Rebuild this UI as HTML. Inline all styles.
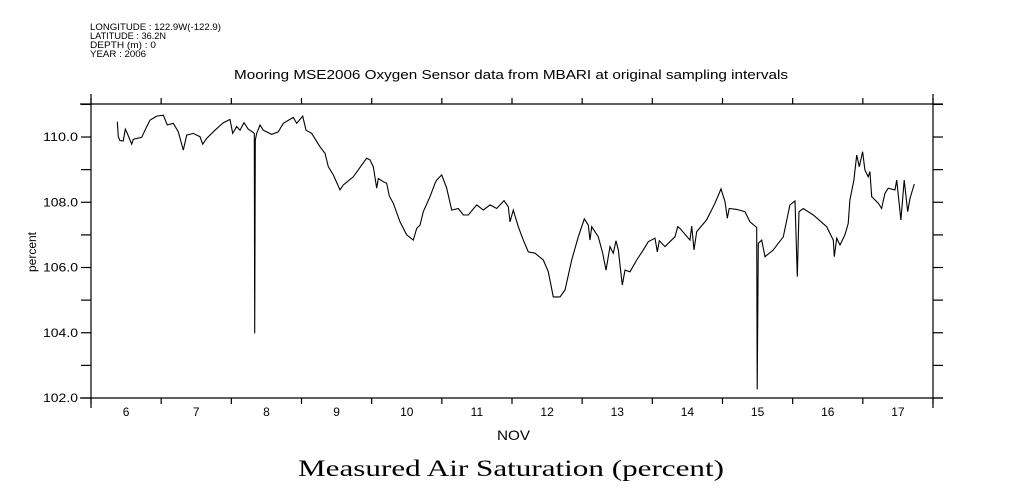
<!DOCTYPE html>
<html><head><meta charset="utf-8"><style>
html,body{margin:0;padding:0;background:#fff;}
svg{display:block;font-family:"Liberation Sans",sans-serif;}
</style></head><body>
<svg id="chart" width="1009" height="504" viewBox="0 0 1009 504">
<g font-size="9" fill="#000">
<text x="90" y="30" textLength="131" lengthAdjust="spacingAndGlyphs">LONGITUDE : 122.9W(-122.9)</text>
<text x="90" y="39" textLength="76" lengthAdjust="spacingAndGlyphs">LATITUDE : 36.2N</text>
<text x="90" y="48" textLength="66" lengthAdjust="spacingAndGlyphs">DEPTH (m) : 0</text>
<text x="90" y="57" textLength="56" lengthAdjust="spacingAndGlyphs">YEAR : 2006</text>
</g>
<text x="234" y="79" textLength="554" lengthAdjust="spacingAndGlyphs" font-size="13">Mooring MSE2006 Oxygen Sensor data from MBARI at original sampling intervals</text>
<g id="axes"></g>
<path id="series" fill="none" stroke="#000" stroke-width="1.1"/>
<text x="497" y="440" textLength="33" lengthAdjust="spacingAndGlyphs" font-size="14">NOV</text>
<text transform="translate(36,252) rotate(-90)" text-anchor="middle" font-size="12">percent</text>
<text x="298" y="476" textLength="426" lengthAdjust="spacingAndGlyphs" font-size="23" font-family="Liberation Serif,serif">Measured Air Saturation (percent)</text>
</svg>
<script>
const dayLabels=["6","7","8","9","10","11","12","13","14","15","16","17"];
const yTicks=[102,104,106,108,110];
const tDays=[0.375,0.389,0.413,0.46,0.489,0.517,0.58,0.603,0.723,0.77,0.841,0.936,1.03,1.087,1.173,1.244,1.315,1.364,1.458,1.553,1.592,1.649,1.767,1.885,1.981,2.019,2.076,2.123,2.18,2.242,2.299,2.327,2.333,2.341,2.361,2.408,2.455,2.575,2.669,2.741,2.883,2.932,3.017,3.064,3.145,3.264,3.335,3.382,3.453,3.549,3.596,3.738,3.858,3.929,3.976,4.023,4.072,4.094,4.166,4.214,4.251,4.308,4.404,4.499,4.593,4.642,4.689,4.736,4.831,4.902,4.927,4.998,5.069,5.14,5.235,5.306,5.377,5.497,5.591,5.686,5.782,5.886,5.947,5.971,6.018,6.09,6.161,6.232,6.328,6.446,6.517,6.588,6.684,6.755,6.851,6.945,7.03,7.087,7.111,7.136,7.23,7.293,7.339,7.396,7.443,7.482,7.515,7.572,7.61,7.681,7.777,7.871,7.942,8.038,8.071,8.099,8.18,8.251,8.323,8.361,8.394,8.537,8.561,8.594,8.632,8.774,8.893,8.978,9.035,9.068,9.096,9.202,9.32,9.391,9.487,9.495,9.51,9.558,9.605,9.724,9.866,9.961,10.033,10.066,10.09,10.151,10.294,10.485,10.579,10.593,10.627,10.674,10.745,10.792,10.816,10.873,10.912,10.949,10.997,11.03,11.077,11.101,11.126,11.22,11.268,11.315,11.362,11.458,11.482,11.543,11.59,11.639,11.672,11.733];
const satValues=[110.47,110.01,109.89,109.88,110.24,110.11,109.78,109.93,109.99,110.21,110.52,110.64,110.67,110.37,110.42,110.16,109.6,110.06,110.11,110.01,109.78,109.96,110.21,110.44,110.54,110.11,110.32,110.21,110.44,110.24,110.16,110.11,103.98,109.91,110.11,110.37,110.21,110.08,110.16,110.42,110.6,110.42,110.64,110.21,110.11,109.7,109.5,109.09,108.84,108.38,108.53,108.78,109.14,109.35,109.3,109.09,108.43,108.73,108.63,108.58,108.19,107.97,107.4,107.0,106.84,107.2,107.3,107.71,108.17,108.58,108.68,108.84,108.43,107.76,107.81,107.61,107.61,107.92,107.76,107.92,107.81,108.05,107.86,107.4,107.76,107.25,106.84,106.48,106.44,106.23,105.87,105.1,105.1,105.31,106.23,106.94,107.49,107.3,106.84,107.25,106.94,106.44,105.92,106.64,106.44,106.82,106.54,105.46,105.92,105.87,106.23,106.54,106.79,106.9,106.48,106.82,106.64,106.79,106.94,107.25,107.2,106.84,107.27,106.54,107.1,107.46,107.97,108.41,108.02,107.51,107.81,107.78,107.71,107.4,107.23,102.27,106.74,106.84,106.33,106.54,106.94,107.92,108.04,105.72,107.71,107.81,107.61,107.25,106.84,106.33,106.9,106.69,107.0,107.35,108.07,108.68,109.45,109.09,109.55,108.99,108.78,108.94,108.17,107.97,107.81,108.27,108.43,108.38,108.68,107.46,108.68,107.71,108.12,108.56];

const X0=91,X1=933,Y0=398,Y1=104.4,DMIN=0,DMAX=12,VMIN=102,VMAX=111;
const xs=d=>X0+(d-DMIN)/(DMAX-DMIN)*(X1-X0);
const ys=v=>Y0-(v-VMIN)/(VMAX-VMIN)*(Y0-Y1);
const NS="http://www.w3.org/2000/svg";
const ax=document.getElementById('axes');
function mk(tag,attrs,parent){const e=document.createElementNS(NS,tag);for(const k in attrs)e.setAttribute(k,attrs[k]);(parent||ax).appendChild(e);return e;}
function ln(x1,y1,x2,y2,name){const e=mk('line',{x1:x1,y1:y1,x2:x2,y2:y2,stroke:'#000','stroke-width':1.2});

return e;}
ln(80,Y0,943,Y0,'x-axis-bottom');
ln(80,104,943,104,'x-axis-top');
ln(X0,94,X0,408,'y-axis-left');
ln(X1,94,X1,408,'y-axis-right');
for(let i=0;i<=dayLabels.length;i++){const x=xs(i);
ln(x,Y0,x,Y0+6,'x-tick-bottom');ln(x,104,x,98,'x-tick-top');}
dayLabels.forEach((lab,i)=>{const t=mk('text',{x:xs(i+0.5),y:Y0+18,'text-anchor':'middle','font-size':12});t.textContent=lab;

});
for(let v=VMIN;v<=VMAX;v++){const y=ys(v);ln(X0-10,y,X0,y,'y-tick-left');ln(X1,y,X1+10,y,'y-tick-right');}
yTicks.forEach(v=>{const t=mk('text',{x:X0-13,y:ys(v)+4,'text-anchor':'end','font-size':12,textLength:35,lengthAdjust:'spacingAndGlyphs'});t.textContent=v.toFixed(1);

});
let d='';tDays.forEach((t,i)=>{d+=(i?'L':'M')+xs(t).toFixed(1)+','+ys(satValues[i]).toFixed(1);});
document.getElementById('series').setAttribute('d',d);
</script>
</body></html>
